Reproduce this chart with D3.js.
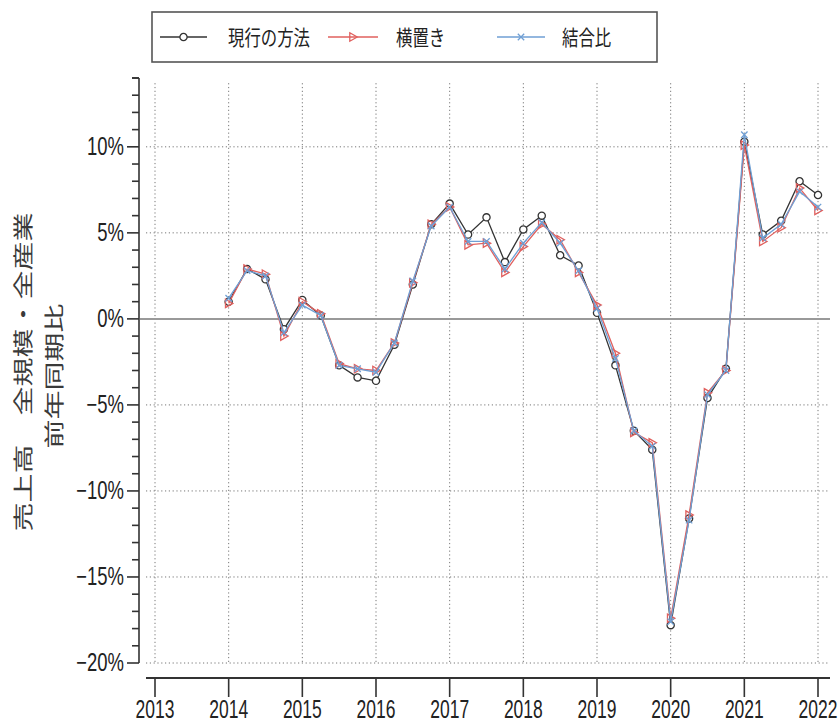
<!DOCTYPE html>
<html>
<head>
<meta charset="utf-8">
<script src="https://cdn.jsdelivr.net/npm/d3@7"></script>
<style>
  html, body { margin: 0; padding: 0; background: #fff; }
  svg { display: block; }
</style>
</head>
<body>
<svg id="chart" width="839" height="724"></svg>
<script>
// Quarterly periods, 2014 Q1 .. 2022 Q1
const quarters = [
  2014.00, 2014.25, 2014.50, 2014.75,
  2015.00, 2015.25, 2015.50, 2015.75,
  2016.00, 2016.25, 2016.50, 2016.75,
  2017.00, 2017.25, 2017.50, 2017.75,
  2018.00, 2018.25, 2018.50, 2018.75,
  2019.00, 2019.25, 2019.50, 2019.75,
  2020.00, 2020.25, 2020.50, 2020.75,
  2021.00, 2021.25, 2021.50, 2021.75,
  2022.00
];

// 現行の方法
const currentMethod = [
  1.0, 2.9, 2.3, -0.6,
  1.1, 0.2, -2.7, -3.4,
  -3.6, -1.5, 2.0, 5.5,
  6.7, 4.9, 5.9, 3.3,
  5.2, 6.0, 3.7, 3.1,
  0.35, -2.7, -6.5, -7.6,
  -17.8, -11.6, -4.6, -2.9,
  10.3, 4.9, 5.7, 8.0,
  7.2
];

// 横置き
const flatMethod = [
  0.9, 2.9, 2.6, -1.0,
  1.0, 0.3, -2.6, -2.9,
  -3.0, -1.4, 2.1, 5.5,
  6.5, 4.3, 4.4, 2.7,
  4.2, 5.5, 4.6, 2.7,
  0.8, -2.0, -6.6, -7.2,
  -17.4, -11.4, -4.3, -3.0,
  10.1, 4.5, 5.3, 7.6,
  6.3
];

// 結合比
const linkedRatio = [
  1.2, 2.8, 2.5, -0.8,
  0.8, 0.2, -2.7, -2.9,
  -3.1, -1.4, 2.2, 5.4,
  6.5, 4.5, 4.5, 2.9,
  4.4, 5.6, 4.4, 2.8,
  0.6, -2.3, -6.5, -7.4,
  -17.6, -11.7, -4.4, -3.0,
  10.7, 4.7, 5.5, 7.4,
  6.5
];

const yearTicks = [2013, 2014, 2015, 2016, 2017, 2018, 2019, 2020, 2021, 2022];
const pctTicks = [10, 5, 0, -5, -10, -15, -20];
const minorPctTicks = d3.range(-20, 15, 1);
const seriesNames = ["現行の方法", "横置き", "結合比"];
const yTitleLine1 = "売上高　全規模・全産業";
const yTitleLine2 = "前年同期比";

const svg = d3.select("#chart");
const numFont = "'Liberation Sans Narrow', 'Liberation Sans', Arial, sans-serif";
const cjkFont = "'Noto Sans CJK JP', 'Noto Sans', sans-serif";
const squeeze = 0.74;

const x = d3.scaleLinear().domain([2013, 2022]).range([155, 818]);
const y = d3.scaleLinear().domain([-20, 14]).range([663, 78]);

const plotLeft = 146, plotRight = 830;

// dotted grid
const grid = svg.append("g");
grid.selectAll("line.v").data(yearTicks).join("line")
  .attr("x1", d => x(d)).attr("x2", d => x(d))
  .attr("y1", y(13.7)).attr("y2", y(-20))
  .attr("stroke", "#777").attr("stroke-width", 1)
  .attr("stroke-dasharray", "1.2,2.6");
grid.selectAll("line.h").data(pctTicks.filter(d => d !== 0)).join("line")
  .attr("x1", plotLeft).attr("x2", plotRight)
  .attr("y1", d => y(d)).attr("y2", d => y(d))
  .attr("stroke", "#777").attr("stroke-width", 1)
  .attr("stroke-dasharray", "1.2,2.6");
// zero line
grid.append("line")
  .attr("x1", 140).attr("x2", plotRight)
  .attr("y1", y(0)).attr("y2", y(0))
  .attr("stroke", "#999").attr("stroke-width", 2);

// y axis with 1% minor ticks
const yAxis = svg.append("g");
yAxis.append("line")
  .attr("x1", 139).attr("x2", 139)
  .attr("y1", y(14)).attr("y2", y(-20))
  .attr("stroke", "#333").attr("stroke-width", 1.6);
yAxis.selectAll("line.t").data(minorPctTicks.concat([14])).join("line")
  .attr("x1", d => (d % 5 === 0 ? 127 : 132)).attr("x2", 139)
  .attr("y1", d => y(d)).attr("y2", d => y(d))
  .attr("stroke", "#333").attr("stroke-width", 1.6);
yAxis.selectAll("text").data(pctTicks).join("text")
  .attr("transform", d => `translate(124,${y(d) + 8}) scale(${squeeze},1)`)
  .attr("text-anchor", "end")
  .attr("font-family", numFont).attr("font-size", 25)
  .attr("fill", "#222")
  .text(d => (d < 0 ? "\u2212" + Math.abs(d) : d) + "%");

// x axis
const xAxis = svg.append("g");
xAxis.append("line")
  .attr("x1", plotLeft).attr("x2", plotRight)
  .attr("y1", 678).attr("y2", 678)
  .attr("stroke", "#333").attr("stroke-width", 1.8);
xAxis.selectAll("line.t").data(yearTicks).join("line")
  .attr("x1", d => x(d)).attr("x2", d => x(d))
  .attr("y1", 678).attr("y2", 697)
  .attr("stroke", "#333").attr("stroke-width", 1.6);
xAxis.selectAll("text").data(yearTicks).join("text")
  .attr("transform", d => `translate(${x(d)},718) scale(0.7,1)`)
  .attr("text-anchor", "middle")
  .attr("font-family", numFont).attr("font-size", 25)
  .attr("fill", "#222")
  .text(d => d);

// y title, two rotated lines
svg.append("text")
  .attr("transform", `translate(31,372) scale(0.7,1) rotate(-90)`)
  .attr("text-anchor", "middle")
  .attr("font-family", cjkFont).attr("font-size", 29)
  .attr("fill", "#3a3a3a")
  .text(yTitleLine1);
svg.append("text")
  .attr("transform", `translate(62,376) scale(0.7,1) rotate(-90)`)
  .attr("text-anchor", "middle")
  .attr("font-family", cjkFont).attr("font-size", 29)
  .attr("fill", "#3a3a3a")
  .text(yTitleLine2);

// series
const styles = [
  { values: currentMethod, color: "#333333", marker: "circle" },
  { values: flatMethod, color: "#e0605e", marker: "triangle" },
  { values: linkedRatio, color: "#6f9fd4", marker: "cross" }
];

function drawMarker(g, kind, color) {
  if (kind === "circle") {
    g.append("circle").attr("r", 3.6)
      .attr("fill", "#fff").attr("stroke", color).attr("stroke-width", 1.3);
  } else if (kind === "triangle") {
    g.append("path").attr("d", "M-3.2,-4.2 L4.2,0 L-3.2,4.2 Z")
      .attr("fill", "none").attr("stroke", color).attr("stroke-width", 1.3);
  } else {
    g.append("path").attr("d", "M-3.2,-3.2 L3.2,3.2 M-3.2,3.2 L3.2,-3.2")
      .attr("fill", "none").attr("stroke", color).attr("stroke-width", 1.3);
  }
}

const line = d3.line().x(d => x(d[0])).y(d => y(d[1]));
styles.forEach(s => {
  const pts = quarters.map((q, i) => [q, s.values[i]]);
  svg.append("path").datum(pts)
    .attr("d", line)
    .attr("fill", "none").attr("stroke", s.color).attr("stroke-width", 1.3);
  svg.append("g").selectAll("g").data(pts).join("g")
    .attr("transform", d => `translate(${x(d[0])},${y(d[1])})`)
    .each(function () { drawMarker(d3.select(this), s.marker, s.color); });
});

// legend
const legend = svg.append("g");
legend.append("rect")
  .attr("x", 152).attr("y", 12).attr("width", 505).attr("height", 50)
  .attr("fill", "#fff").attr("stroke", "#555").attr("stroke-width", 1.6);
const legendItems = [
  { x0: 160, x1: 207, tx: 228 },
  { x0: 328, x1: 378, tx: 396 },
  { x0: 497, x1: 545, tx: 562 }
];
legendItems.forEach((it, i) => {
  const s = styles[i];
  const ly = 37;
  legend.append("line")
    .attr("x1", it.x0).attr("x2", it.x1).attr("y1", ly).attr("y2", ly)
    .attr("stroke", s.color).attr("stroke-width", 1.4);
  const mg = legend.append("g").attr("transform", `translate(${(it.x0 + it.x1) / 2},${ly})`);
  drawMarker(mg, s.marker, s.color);
  legend.append("text")
    .attr("transform", `translate(${it.tx},${ly + 8}) scale(0.78,1)`)
    .attr("font-family", cjkFont).attr("font-size", 21)
    .attr("fill", "#222")
    .text(seriesNames[i]);
});
</script>
</body>
</html>
